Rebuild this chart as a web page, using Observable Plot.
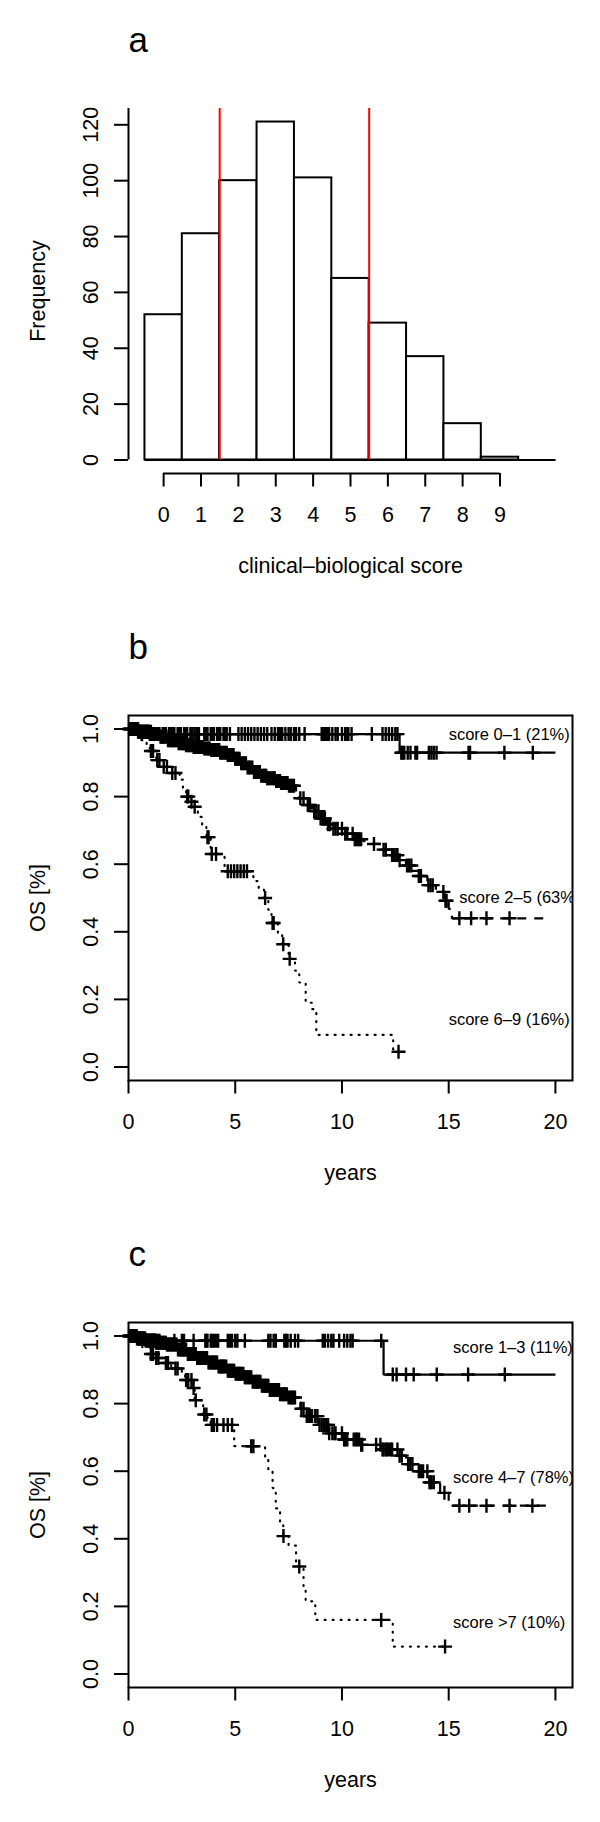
<!DOCTYPE html>
<html>
<head>
<meta charset="utf-8">
<script src="https://cdn.jsdelivr.net/npm/d3@7"></script>
<script src="https://cdn.jsdelivr.net/npm/@observablehq/plot@0.6"></script>
<style>
  html, body { margin: 0; padding: 0; background: #fff; }
  svg { display: block; }
</style>
</head>
<body>
<div id="chart"></div>
<script>
// ---------------- Panel a: histogram ----------------
const scores = [0, 1, 2, 3, 4, 5, 6, 7, 8, 9, 10];
const frequency = [52, 81, 100, 121, 101, 65, 49, 37, 13, 1, 0];
const cutoffs = [1.5, 5.5];
const freqTicks = [0, 20, 40, 60, 80, 100, 120];
const scoreTicks = [0, 1, 2, 3, 4, 5, 6, 7, 8, 9];

// ---------------- Panel b: Kaplan-Meier, score groups 0-1 / 2-5 / 6-9 ----------------
const b01Time = [0, 0.4, 1.2, 12.7, 20.0];
const b01Surv = [1, 0.992, 0.985, 0.93, 0.93];
const b01Censor = [0.03, 0.08, 0.12, 0.17, 0.22, 0.27, 0.32, 0.38, 0.45, 0.5, 0.55, 0.62, 0.68, 0.75, 0.8, 0.85, 0.92, 0.97, 1.05, 1.3, 1.38, 1.45, 1.6, 1.68, 1.75, 1.9, 2.0, 2.08, 2.15, 2.3, 2.38, 2.45, 2.6, 2.68, 2.75, 2.9, 2.95, 3.0, 3.1, 3.2, 3.3, 3.55, 3.62, 3.7, 3.85, 3.92, 4.0, 4.15, 4.22, 4.3, 4.45, 4.52, 4.6, 4.75, 5.15, 5.3, 5.45, 5.6, 5.75, 5.9, 6.05, 6.2, 6.35, 6.5, 6.7, 6.85, 7.0, 7.05, 7.1, 7.15, 7.2, 7.35, 7.5, 7.6, 7.75, 7.85, 8.0, 8.25, 9.05, 9.1, 9.15, 9.25, 9.35, 9.4, 9.55, 9.7, 9.8, 10.0, 10.15, 10.25, 10.3, 10.45, 11.4, 11.9, 12.05, 12.2, 12.35, 12.5, 12.6, 12.78, 12.84, 12.92, 13.08, 13.21, 13.44, 13.52, 14.07, 14.19, 14.3, 14.43, 15.93, 16.0, 17.61, 18.94];

const b25Time = [0, 0.5, 1.0, 1.5, 1.8, 2.3, 2.7, 3.05, 3.5, 3.85, 4.3, 4.65, 5.0, 5.25, 5.55, 5.85, 6.2, 6.5, 6.9, 7.15, 7.5, 7.85, 8.0, 8.3, 8.6, 9.0, 9.3, 9.6, 10.1, 10.6, 11.0, 11.5, 11.9, 12.3, 12.65, 13.0, 13.3, 13.6, 14.0, 14.4, 14.8, 15.0, 15.15, 19.55];
const b25Surv = [1, 0.992, 0.985, 0.977, 0.967, 0.958, 0.952, 0.947, 0.942, 0.938, 0.93, 0.923, 0.912, 0.899, 0.886, 0.873, 0.862, 0.854, 0.846, 0.84, 0.832, 0.815, 0.795, 0.775, 0.757, 0.735, 0.718, 0.705, 0.69, 0.674, 0.668, 0.66, 0.643, 0.627, 0.612, 0.596, 0.58, 0.565, 0.538, 0.518, 0.492, 0.468, 0.44, 0.44];
const b25Censor = [0.05, 0.1, 0.15, 0.2, 0.25, 0.3, 0.35, 0.4, 0.45, 0.5, 0.55, 0.6, 0.65, 0.7, 0.75, 0.8, 0.85, 0.9, 0.95, 1.0, 1.05, 1.1, 1.15, 1.2, 1.28, 1.35, 1.42, 1.5, 1.55, 1.6, 1.65, 1.7, 1.78, 1.85, 1.92, 2.0, 2.05, 2.1, 2.15, 2.2, 2.28, 2.35, 2.42, 2.5, 2.55, 2.6, 2.65, 2.7, 2.78, 2.85, 2.92, 3.0, 3.05, 3.1, 3.18, 3.25, 3.32, 3.4, 3.48, 3.55, 3.62, 3.7, 3.75, 3.8, 3.88, 3.95, 4.02, 4.1, 4.15, 4.2, 4.25, 4.3, 4.38, 4.45, 4.52, 4.6, 4.65, 4.7, 4.78, 4.85, 4.92, 5.0, 5.05, 5.1, 5.15, 5.2, 5.28, 5.35, 5.42, 5.5, 5.58, 5.65, 5.72, 5.8, 5.88, 5.95, 6.0, 6.05, 6.1, 6.15, 6.22, 6.3, 6.35, 6.4, 6.45, 6.5, 6.55, 6.6, 6.68, 6.75, 6.8, 6.85, 6.92, 7.0, 7.05, 7.1, 7.15, 7.2, 7.28, 7.35, 7.4, 7.45, 7.52, 7.6, 7.68, 7.75, 8.05, 8.2, 8.4, 8.5, 8.7, 8.8, 8.9, 9.0, 9.1, 9.2, 9.35, 9.45, 9.6, 9.7, 9.8, 10.0, 10.15, 10.25, 10.5, 10.6, 10.65, 10.75, 10.8, 10.9, 11.5, 11.95, 12.05, 12.35, 12.45, 12.55, 12.6, 12.7, 13.05, 13.15, 13.25, 13.6, 13.7, 14.05, 14.15, 14.25, 14.75, 14.85, 14.9, 15.5, 16.05, 16.77, 17.85];

const b69Time = [0, 0.35, 0.6, 0.85, 1.0, 1.3, 1.6, 2.0, 2.4, 2.55, 2.7, 2.9, 3.05, 3.25, 3.45, 3.65, 3.85, 4.5, 5.85, 6.1, 6.35, 6.55, 6.7, 7.0, 7.2, 7.5, 7.8, 8.0, 8.3, 8.6, 8.8, 12.4, 12.65];
const b69Surv = [1, 0.985, 0.967, 0.95, 0.935, 0.908, 0.888, 0.87, 0.85, 0.825, 0.80, 0.785, 0.77, 0.74, 0.71, 0.68, 0.63, 0.579, 0.55, 0.525, 0.50, 0.465, 0.426, 0.395, 0.363, 0.32, 0.285, 0.25, 0.19, 0.171, 0.095, 0.045, 0.045];
const b69Censor = [1.05, 1.15, 1.35, 1.45, 1.65, 1.8, 2.05, 2.2, 2.75, 2.8, 2.95, 3.1, 3.7, 3.75, 3.9, 4.1, 4.65, 4.8, 4.95, 5.1, 5.25, 5.4, 5.55, 6.4, 6.75, 6.8, 7.25, 7.55, 12.65];

const bLabels = ["score 0–1 (21%)", "score 2–5 (63%)", "score 6–9 (16%)"];
const bLabelX = [15.0, 15.5, 15.0];
const bLabelY = [0.982, 0.50, 0.141];

// ---------------- Panel c: Kaplan-Meier, score groups 1-3 / 4-7 / >7 ----------------
const c13Time = [0, 0.4, 0.8, 11.95, 20.0];
const c13Surv = [1, 0.993, 0.986, 0.886, 0.886];
const c13Censor = [0.03, 0.08, 0.12, 0.16, 0.2, 0.25, 0.3, 0.38, 0.45, 0.5, 0.55, 0.62, 0.7, 0.78, 0.85, 1.2, 1.25, 1.3, 1.38, 1.45, 2.15, 2.5, 2.6, 3.05, 3.6, 3.65, 3.7, 3.85, 3.92, 4.0, 4.1, 4.2, 4.65, 4.75, 4.85, 5.0, 5.1, 5.45, 6.55, 6.65, 6.8, 6.9, 7.3, 7.38, 7.45, 7.6, 7.8, 7.95, 9.1, 9.2, 9.35, 9.5, 9.6, 9.87, 10.1, 10.25, 10.4, 10.5, 11.84, 12.38, 12.56, 13.0, 13.36, 14.44, 15.91, 17.63];

const c47Time = [0, 0.4, 0.8, 1.3, 1.8, 2.3, 2.75, 3.2, 3.7, 4.2, 4.6, 5.0, 5.4, 5.8, 6.2, 6.6, 7.1, 7.5, 7.9, 8.05, 8.35, 8.9, 9.4, 10.1, 10.85, 11.9, 12.65, 13.0, 13.5, 14.1, 14.6, 15.0, 15.15, 19.7];
const c47Surv = [1, 0.993, 0.987, 0.98, 0.975, 0.96, 0.947, 0.935, 0.922, 0.91, 0.897, 0.888, 0.878, 0.865, 0.853, 0.84, 0.828, 0.818, 0.804, 0.785, 0.763, 0.737, 0.712, 0.694, 0.678, 0.664, 0.646, 0.621, 0.60, 0.567, 0.536, 0.506, 0.498, 0.498];
const c47Censor = [0.03, 0.05, 0.1, 0.14, 0.18, 0.22, 0.25, 0.3, 0.35, 0.4, 0.45, 0.5, 0.55, 0.6, 0.65, 0.7, 0.75, 0.8, 0.85, 0.9, 0.95, 1.0, 1.05, 1.1, 1.15, 1.2, 1.25, 1.3, 1.35, 1.4, 1.45, 1.5, 1.55, 1.6, 1.65, 1.7, 1.75, 1.8, 1.85, 1.9, 1.95, 2.0, 2.05, 2.1, 2.15, 2.2, 2.25, 2.32, 2.4, 2.45, 2.5, 2.55, 2.6, 2.65, 2.7, 2.78, 2.85, 2.9, 2.95, 3.0, 3.05, 3.1, 3.15, 3.22, 3.3, 3.35, 3.4, 3.45, 3.5, 3.55, 3.6, 3.68, 3.75, 3.8, 3.85, 3.9, 3.95, 4.0, 4.05, 4.1, 4.15, 4.22, 4.3, 4.35, 4.4, 4.45, 4.5, 4.58, 4.65, 4.7, 4.75, 4.8, 4.85, 4.9, 4.95, 5.02, 5.1, 5.15, 5.2, 5.25, 5.3, 5.38, 5.45, 5.5, 5.55, 5.6, 5.65, 5.7, 5.75, 5.82, 5.9, 5.95, 6.0, 6.05, 6.1, 6.18, 6.25, 6.3, 6.35, 6.4, 6.45, 6.5, 6.55, 6.62, 6.7, 6.75, 6.8, 6.85, 6.9, 6.95, 7.0, 7.05, 7.1, 7.18, 7.25, 7.3, 7.35, 7.42, 7.5, 7.58, 7.65, 7.72, 7.8, 8.1, 8.2, 8.35, 8.45, 8.5, 8.6, 8.75, 8.85, 8.95, 9.05, 9.15, 9.25, 9.35, 9.4, 9.55, 9.65, 9.7, 10.0, 10.1, 10.15, 10.25, 10.55, 10.65, 10.7, 10.8, 10.9, 10.95, 11.6, 11.8, 11.9, 11.95, 12.05, 12.1, 12.2, 12.3, 12.35, 12.6, 12.7, 12.8, 13.1, 13.2, 13.3, 13.6, 13.7, 13.8, 14.0, 14.1, 14.15, 14.2, 14.3, 14.8, 15.5, 15.96, 16.77, 17.85, 18.92];

const c7Time = [0, 0.35, 0.65, 1.0, 1.2, 1.7, 2.0, 2.5, 2.65, 3.0, 3.1, 3.5, 3.7, 3.85, 4.95, 6.4, 6.55, 6.75, 6.9, 7.1, 7.25, 7.5, 7.85, 8.2, 8.3, 8.75, 12.38, 14.83];
const c7Surv = [1, 0.985, 0.967, 0.947, 0.935, 0.92, 0.904, 0.887, 0.87, 0.846, 0.81, 0.768, 0.748, 0.737, 0.674, 0.64, 0.60, 0.55, 0.49, 0.445, 0.408, 0.38, 0.318, 0.25, 0.215, 0.16, 0.081, 0.081];
const c7Censor = [1.05, 1.15, 1.3, 1.4, 1.75, 1.85, 2.2, 2.3, 2.7, 2.8, 2.95, 3.05, 3.15, 3.55, 3.65, 3.9, 4.0, 4.15, 4.45, 4.65, 4.85, 5.75, 5.85, 7.26, 8.0, 11.84, 14.83];

const cLabels = ["score 1–3 (11%)", "score 4–7 (78%)", "score >7 (10%)"];
const cLabelX = [15.2, 15.2, 15.2];
const cLabelY = [0.964, 0.582, 0.151];

const yearTicks = [0, 5, 10, 15, 20];
const osTicks = [0, 0.2, 0.4, 0.6, 0.8, 1.0];

// ---------------- helpers ----------------
const FONT = "Liberation Sans, Arial, Helvetica, sans-serif";
const W = 600;
const FRAME_LEFT = 128, FRAME_RIGHT = 28, FRAME_TOP = 108, FRAME_BOTTOM_Y = 473;
const AXIS_FS = 21.5;

const plusSymbol = {
  draw(ctx, size) {
    const r = Math.sqrt(size / Math.PI);
    ctx.moveTo(-r, 0); ctx.lineTo(r, 0);
    ctx.moveTo(0, -r); ctx.lineTo(0, r);
  }
};

function stepAt(times, surv, t) {
  let v = surv[0];
  for (let i = 0; i < times.length; i++) if (times[i] <= t) v = surv[i];
  return v;
}

function curveMarks(times, surv, censor, dash) {
  const pts = times.map((t, i) => ({t, s: surv[i]}));
  const cen = censor.map(t => ({t, s: stepAt(times, surv, t)}));
  return [
    Plot.line(pts, {x: "t", y: "s", curve: "step-after", stroke: "black", strokeWidth: 2.2,
      strokeDasharray: dash, strokeLinecap: dash === "1,7" ? "round" : "butt", strokeLinejoin: "miter"}),
    Plot.dot(cen, {x: "t", y: "s", symbol: plusSymbol, r: 7, stroke: "black", strokeWidth: 2.4, fill: "none"})
  ];
}

function commonText(letter, ylabel, xlabel, yTickVals, yFmt, xTickVals) {
  return [
    Plot.axisY(yTickVals, {tickSize: 14, strokeWidth: 2, fill: "none", stroke: "black"}),
    Plot.axisX(xTickVals, {tickSize: 13.5, strokeWidth: 2, fill: "none", stroke: "black"}),
    Plot.text(yTickVals, {y: d => d, text: yFmt, frameAnchor: "left", dx: -37.2, rotate: -90,
      fontSize: AXIS_FS, fill: "black", textAnchor: "middle", lineAnchor: "middle"}),
    Plot.text(xTickVals, {x: d => d, text: d => String(d), frameAnchor: "bottom", dy: 41.5,
      fontSize: AXIS_FS, fill: "black", textAnchor: "middle", lineAnchor: "middle"}),
    Plot.text([ylabel], {text: d => d, frameAnchor: "left", dx: -90.8, rotate: -90,
      fontSize: AXIS_FS, fill: "black", textAnchor: "middle", lineAnchor: "middle"}),
    Plot.text([xlabel], {text: d => d, frameAnchor: "bottom", dy: 93,
      fontSize: AXIS_FS, fill: "black", textAnchor: "middle", lineAnchor: "middle"}),
    Plot.text([letter], {text: d => d, frameAnchor: "top-left", dy: -56.5,
      fontSize: 35, fill: "black", textAnchor: "start", lineAnchor: "bottom"})
  ];
}

function layout(h) {
  return {width: W, height: h, marginLeft: FRAME_LEFT, marginRight: FRAME_RIGHT,
    marginTop: FRAME_TOP, marginBottom: h - FRAME_BOTTOM_Y,
    style: {fontFamily: FONT, background: "white", color: "black", overflow: "visible"}};
}

const chart = document.getElementById("chart");

// ---------------- Panel a ----------------
const histXDomain = [-0.94, 10.94];
const histYDomain = [-4.84, 125.84];
const bins = scores.map((s, i) => ({score: s, freq: frequency[i]}));

const plotA = Plot.plot({
  ...layout(607),
  x: {domain: histXDomain},
  y: {domain: histYDomain},
  marks: [
    Plot.rectY(bins, {x1: d => d.score - 0.5, x2: d => d.score + 0.5, y1: 0, y2: "freq",
      fill: "white", stroke: "black", strokeWidth: 2}),
    Plot.ruleY([0], {x1: scores[0] - 0.5, x2: scores[scores.length - 1] + 0.5, stroke: "black", strokeWidth: 2}),
    Plot.ruleX(cutoffs, {y1: 0, y2: histYDomain[1], stroke: "red", strokeWidth: 2}),
    Plot.ruleX([histXDomain[0]], {y1: 0, y2: histYDomain[1], stroke: "black", strokeWidth: 2}),
    Plot.ruleY([histYDomain[0]], {x1: scoreTicks[0], x2: scoreTicks[scoreTicks.length - 1], stroke: "black", strokeWidth: 2}),
    ...commonText("a", "Frequency", "clinical–biological score", freqTicks, d => String(d), scoreTicks)
  ]
});
chart.appendChild(plotA);

// ---------------- Panels b and c ----------------
const kmXDomain = [0, 20.8];
const kmYDomain = [-0.04, 1.04];
const fmt1 = d3.format(".1f");

function kmPanel(h, letter, curves, labels, lx, ly) {
  const lab = labels.map((t, i) => ({t, x: lx[i], y: ly[i]}));
  return Plot.plot({
    ...layout(h),
    x: {domain: kmXDomain},
    y: {domain: kmYDomain},
    marks: [
      ...curves.flat(),
      Plot.text(lab, {x: "x", y: "y", text: "t", textAnchor: "start", lineAnchor: "middle",
        fontSize: 16.5, fill: "black", clip: true}),
      Plot.frame({stroke: "black", strokeWidth: 2}),
      ...commonText(letter, "OS [%]", "years", osTicks, fmt1, yearTicks)
    ]
  });
}

chart.appendChild(kmPanel(607, "b", [
  curveMarks(b01Time, b01Surv, b01Censor, null),
  curveMarks(b25Time, b25Surv, b25Censor, "9,8"),
  curveMarks(b69Time, b69Surv, b69Censor, "1,7")
], bLabels, bLabelX, bLabelY));

chart.appendChild(kmPanel(608, "c", [
  curveMarks(c13Time, c13Surv, c13Censor, null),
  curveMarks(c47Time, c47Surv, c47Censor, "9,8"),
  curveMarks(c7Time, c7Surv, c7Censor, "1,7")
], cLabels, cLabelX, cLabelY));
</script>
</body>
</html>
